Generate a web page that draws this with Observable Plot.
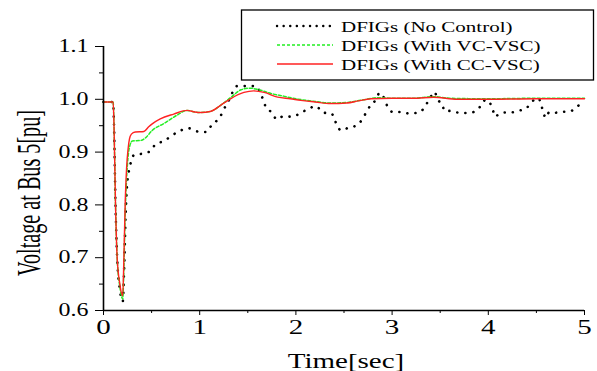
<!DOCTYPE html>
<html><head><meta charset="utf-8">
<script src="https://cdn.jsdelivr.net/npm/d3@7"></script>
<script src="https://cdn.jsdelivr.net/npm/@observablehq/plot@0.6"></script>
<style>
body{margin:0;background:#fff}
#wrap{position:relative;width:597px;height:371px;overflow:hidden}
#legend{position:absolute;left:0;top:0}
#wrap svg text{font-family:'Liberation Serif','Times New Roman',Times,serif}
</style>
</head><body><div id="wrap"></div>
<script>
// ---- data ----
const seriesNames = ["DFIGs (No Control)", "DFIGs (With VC-VSC)", "DFIGs (With CC-VSC)"];
const seriesColors = ["#000000", "#22ee22", "#ff2222"];

const tNoControl = [0,0.10,0.108,0.125,0.142,0.17,0.20,0.215,0.23,0.246,0.274,0.315,0.40,0.49,0.54,0.63,0.70,0.78,0.89,0.98,1.07,1.12,1.19,1.234,1.268,1.303,1.338,1.39,1.48,1.58,1.632,1.684,1.754,1.80,1.87,1.96,2.05,2.13,2.21,2.28,2.37,2.41,2.446,2.49,2.54,2.61,2.69,2.73,2.77,2.83,2.87,2.92,2.95,3.01,3.09,3.18,3.29,3.35,3.39,3.44,3.475,3.52,3.545,3.61,3.68,3.76,3.85,3.92,3.97,4.02,4.05,4.07,4.11,4.18,4.23,4.31,4.40,4.47,4.52,4.55,4.57,4.60,4.63,4.67,4.75,4.84,4.92,4.98];
const vNoControl = [0.995,0.995,0.96,0.80,0.70,0.64,0.617,0.68,0.78,0.84,0.872,0.894,0.897,0.902,0.915,0.921,0.930,0.939,0.945,0.939,0.938,0.950,0.962,0.974,0.987,0.998,1.012,1.025,1.025,1.025,1.012,0.987,0.974,0.962,0.968,0.967,0.974,0.982,0.987,0.975,0.973,0.958,0.944,0.941,0.946,0.949,0.962,0.975,0.987,0.999,1.012,1.001,0.987,0.976,0.976,0.973,0.976,0.989,1.001,1.014,0.999,0.991,0.978,0.978,0.975,0.974,0.976,0.987,0.999,0.992,0.978,0.967,0.972,0.975,0.975,0.978,0.984,0.998,1.002,0.990,0.976,0.965,0.975,0.974,0.976,0.977,0.985,0.998];

const tVCVSC = [0,0.10,0.108,0.125,0.142,0.17,0.20,0.212,0.225,0.24,0.255,0.275,0.30,0.385,0.437,0.506,0.627,0.765,0.87,0.95,1.01,1.11,1.22,1.32,1.43,1.52,1.60,1.74,1.87,2.0,2.2,2.36,2.53,2.7,2.85,3.0,3.22,3.43,3.6,4.0,4.5,5.0];
const vVCVSC = [0.995,0.995,0.96,0.80,0.70,0.645,0.622,0.68,0.78,0.85,0.89,0.913,0.921,0.922,0.927,0.941,0.954,0.970,0.979,0.976,0.975,0.977,0.989,1.003,1.018,1.021,1.019,1.011,1.006,1.001,0.996,0.993,0.994,0.999,1.003,1.002,1.002,1.005,1.002,1.001,1.002,1.002];

const tCCVSC = [0,0.10,0.108,0.125,0.142,0.17,0.20,0.212,0.225,0.24,0.255,0.27,0.29,0.33,0.42,0.47,0.51,0.59,0.73,0.87,0.95,1.01,1.11,1.22,1.32,1.46,1.56,1.67,1.81,1.94,2.05,2.2,2.36,2.53,2.65,2.78,3.0,3.22,3.43,3.68,4.0,4.5,5.0];
const vCCVSC = [0.995,0.995,0.96,0.80,0.70,0.65,0.628,0.70,0.80,0.87,0.905,0.925,0.934,0.938,0.939,0.948,0.954,0.963,0.972,0.979,0.976,0.975,0.977,0.989,1.001,1.013,1.016,1.013,1.004,1.001,0.998,0.995,0.992,0.993,0.997,1.001,1.002,1.002,1.004,1.000,1.000,1.001,1.001];

const xTicks = [0,1,2,3,4,5];
const xMinorTicks = [0.5,1.5,2.5,3.5,4.5];
const yTicks = [0.6,0.7,0.8,0.9,1.0,1.1];
const yMinorTicks = [0.65,0.75,0.85,0.95,1.05];
const xLabel = "Time[sec]";
const yLabel = "Voltage at Bus 5[pu]";

// ---- chart ----
const font = "'Liberation Serif','Times New Roman',Times,serif";
const rows = (t, v) => t.map((d, i) => ({t: d, v: v[i]}));

const chart = Plot.plot({
  width: 597, height: 371,
  marginLeft: 103, marginRight: 13, marginTop: 46, marginBottom: 61,
  style: {fontFamily: font, background: "#fff", color: "#000", overflow: "visible"},
  x: {domain: [0, 5], axis: null},
  y: {domain: [0.6, 1.1], axis: null},
  marks: [
    Plot.line(rows(tNoControl, vNoControl), {x: "t", y: "v", stroke: seriesColors[0], strokeWidth: 2.6, strokeDasharray: "0.1,8", strokeLinecap: "round", curve: "monotone-x"}),
    Plot.line(rows(tVCVSC, vVCVSC), {x: "t", y: "v", stroke: seriesColors[1], strokeWidth: 1.5, strokeDasharray: "3,2", curve: "monotone-x"}),
    Plot.line(rows(tCCVSC, vCCVSC), {x: "t", y: "v", stroke: seriesColors[2], strokeWidth: 1.4, curve: "monotone-x"}),
    Plot.axisY(yTicks, {tickSize: 8, tickPadding: 7, tickFormat: d3.format(".1f"), fontSize: 18, fontFamily: font, label: null}),
    Plot.axisY(yMinorTicks, {tickSize: 4, fill: "none", label: null}),
    Plot.axisX(xTicks, {tickSize: 5, tickPadding: 4, fontSize: 20, fontFamily: font, label: null}),
    Plot.axisX(xMinorTicks, {tickSize: 3, fill: "none", label: null}),
    Plot.ruleX([0], {stroke: "#000", strokeWidth: 1.6}),
    Plot.ruleY([0.6], {stroke: "#000", strokeWidth: 1.6})
  ]
});

const wrap = document.getElementById("wrap");
wrap.appendChild(chart);
const svg = d3.select(chart);

// axis titles
svg.append("text").attr("class", "xtitle")
  .attr("x", 346).attr("y", 368).attr("text-anchor", "middle")
  .attr("font-size", 20).attr("font-family", font).attr("fill", "#000")
  .text(xLabel);
svg.append("text").attr("class", "ytitle")
  .attr("transform", "translate(40,193) rotate(-90)").attr("text-anchor", "middle")
  .attr("font-size", 33).attr("font-family", font).attr("fill", "#000")
  .text(yLabel);

// legend
const leg = d3.select(wrap).append("svg").attr("id", "legend")
  .attr("width", 597).attr("height", 90);
leg.append("rect").attr("x", 241.5).attr("y", 10).attr("width", 352).attr("height", 70)
  .attr("fill", "#fff").attr("stroke", "#000").attr("stroke-width", 1.3);
const dashes = ["0.1,6.5", "3,2", null];
const widths = [2.4, 1.4, 1.4];
const lineY = [26, 45, 64];
const textY = [31.5, 51, 70];
seriesNames.forEach((name, i) => {
  const l = leg.append("line").attr("x1", 277).attr("x2", 333).attr("y1", lineY[i]).attr("y2", lineY[i])
    .attr("stroke", seriesColors[i]).attr("stroke-width", widths[i]).attr("stroke-linecap", i === 0 ? "round" : "butt");
  if (dashes[i]) l.attr("stroke-dasharray", dashes[i]);
  leg.append("text").attr("x", 341).attr("y", textY[i]).attr("font-size", 15)
    .attr("font-family", font).attr("fill", "#000").text(name);
});

// the reference's lettering is horizontally stretched
function stretch(sel, k) {
  sel.each(function () {
    this.setAttribute("font-family", font);
    const len = this.getComputedTextLength();
    if (len > 0) {
      this.setAttribute("textLength", (len * k).toFixed(1));
      this.setAttribute("lengthAdjust", "spacingAndGlyphs");
    }
  });
}
stretch(svg.selectAll("g[aria-label='y-axis tick label'] text"), 1.33);
stretch(svg.selectAll("g[aria-label='x-axis tick label'] text"), 1.45);
stretch(svg.selectAll("text.xtitle"), 1.45);
stretch(leg.selectAll("text"), 1.4);
svg.select("text.ytitle").attr("textLength", 166).attr("lengthAdjust", "spacingAndGlyphs");
</script>
</body></html>
